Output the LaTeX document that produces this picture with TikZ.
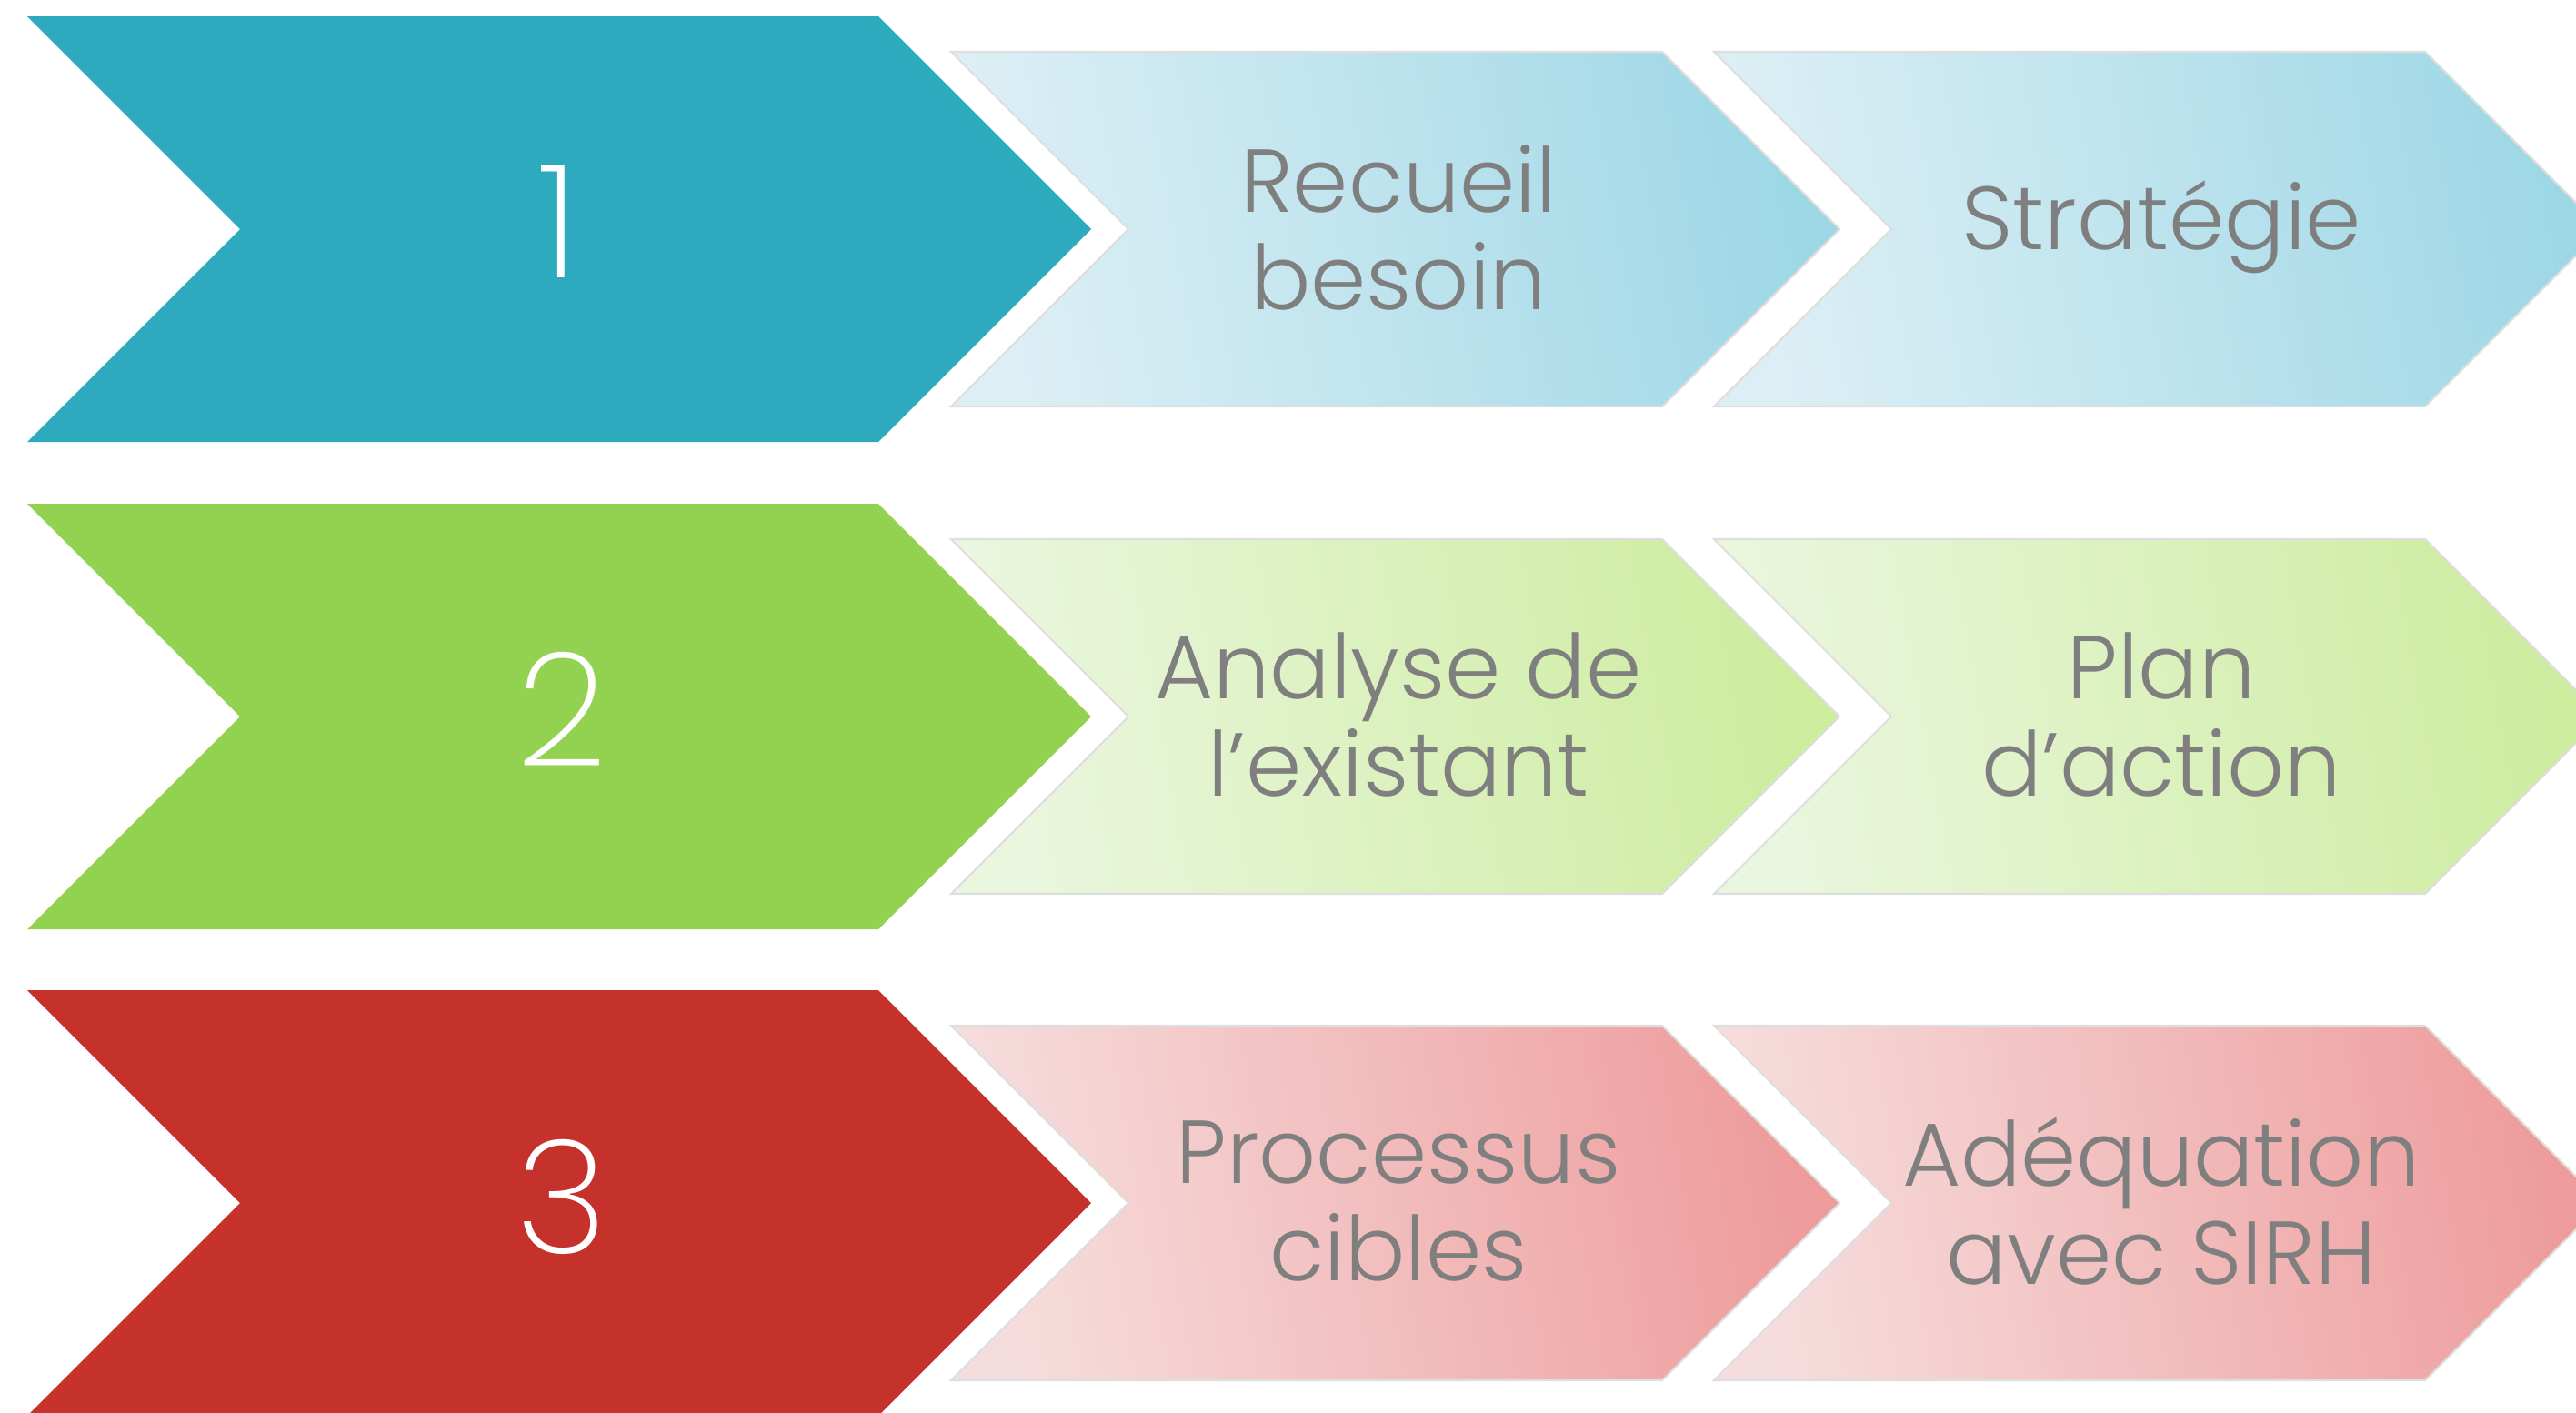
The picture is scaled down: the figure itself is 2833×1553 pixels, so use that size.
\documentclass[tikz,border=0pt]{standalone}
\usepackage{fontspec}
\setmainfont{Poppins}[UprightFont=* Light]
\newfontfamily\numfont{Poppins}[UprightFont=* ExtraLight]
\definecolor{teal1}{HTML}{2EAABF}
\definecolor{green1}{HTML}{93D150}
\definecolor{red1}{HTML}{C5322C}
\definecolor{blueA}{HTML}{DDEFF5}
\definecolor{blueB}{HTML}{9DD7E6}
\definecolor{greenA}{HTML}{EBF6DF}
\definecolor{greenB}{HTML}{CCEC9E}
\definecolor{redA}{HTML}{F6DDDD}
\definecolor{redB}{HTML}{EE9B9B}
\definecolor{txtgray}{HTML}{7F7F7F}
\newcommand\bigchev[2]{%
  \fill[#2] (30,{#1-234}) -- (966,{#1-234}) -- (1200,#1) -- (966,{#1+234}) -- (30,{#1+234}) -- (264,#1) -- cycle;}
\newcommand\lightchev[4]{%
  \shade[left color=#3, right color=#4, shading angle=100, draw=black!13, line width=1.2pt]
    (#1,{#2-195}) -- ({#1+782},{#2-195}) -- ({#1+977},#2) -- ({#1+782},{#2+195}) -- (#1,{#2+195}) -- ({#1+195},#2) -- cycle;}
\tikzset{
  numtxt/.style={text=white, font=\numfont\fontsize{99}{99}\selectfont, inner sep=0pt, anchor=center},
  steptxt/.style={text=txtgray, font=\fontsize{56}{61}\selectfont, align=center, inner sep=0pt, anchor=center}
}
\begin{document}
\begin{tikzpicture}[x=0.02cm, y=-0.02cm]
\useasboundingbox (0,0) rectangle (2833,1553);
\clip (0,0) rectangle (2833,1553);
% row 1
\bigchev{252}{teal1}
\lightchev{1046}{252}{blueA}{blueB}
\lightchev{1885}{252}{blueA}{blueB}
\node[numtxt] (n1) at (614,244) {1};
\node[steptxt] (t1a) at (1538,250) {Recueil\\besoin};
\node[steptxt] (t1b) at (2377,250) {Stratégie};
% row 2
\bigchev{788}{green1}
\lightchev{1046}{788}{greenA}{greenB}
\lightchev{1885}{788}{greenA}{greenB}
\node[numtxt] (n2) at (618,780) {2};
\node[steptxt] (t2a) at (1538,786) {Analyse de\\l’existant};
\node[steptxt] (t2b) at (2377,786) {Plan\\d’action};
% row 3
\bigchev{1323}{red1}
\lightchev{1046}{1323}{redA}{redB}
\lightchev{1885}{1323}{redA}{redB}
\node[numtxt] (n3) at (618,1316) {3};
\node[steptxt] (t3a) at (1538,1321) {Processus\\cibles};
\node[steptxt] (t3b) at (2377,1321) {Adéquation\\avec SIRH};
\end{tikzpicture}
\end{document}
